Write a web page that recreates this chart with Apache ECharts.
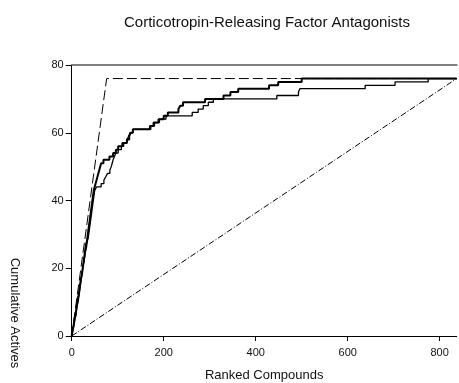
<!DOCTYPE html>
<html>
<head>
<meta charset="utf-8">
<script src="https://cdn.jsdelivr.net/npm/echarts@6/dist/echarts.min.js"></script>
<style>
  html, body { margin: 0; padding: 0; background: #fff; }
  #chart { width: 459px; height: 383px; }
</style>
</head>
<body>
<div id="chart"></div>
<script>
// Enrichment curves: cumulative actives found vs. ranked compounds
const totalCompounds = 837;
const totalActives = 76;
const xTicks = [0, 200, 400, 600, 800];
const yTicks = [0, 20, 40, 60, 80];

// Method A (heavy line): rank at which each cumulative count is reached
const rankA = [0, 1, 2, 4, 5, 6, 8, 9, 10, 11, 12, 13, 15, 16, 17, 18, 19, 20, 22, 23,
  24, 25, 26, 27, 28, 29, 30, 31, 33, 34, 35, 36, 37, 38, 39, 40, 41, 42, 43, 44,
  45, 46, 48, 52, 56, 60, 64, 69, 82, 90, 96, 101, 110, 120, 125, 128, 133, 170, 178, 190,
  200, 209, 232, 236, 242, 290, 330, 345, 362, 429, 449, 500, 837];
const activesA = [0, 1, 2, 3, 4, 5, 6, 7, 8, 9, 10, 11, 12, 13, 14, 15, 16, 17, 18, 19,
  20, 21, 22, 23, 24, 25, 26, 27, 28, 29, 30, 31, 32, 33, 34, 35, 36, 37, 38, 39,
  40, 41, 43, 45, 47, 49, 51, 52, 53, 54, 55, 56, 57, 58, 59, 60, 61, 62, 63, 64,
  65, 66, 67, 68, 69, 70, 71, 72, 73, 74, 75, 76, 76];

// Method B (light line)
const rankB = [0, 2, 3, 5, 6, 7, 9, 10, 11, 12, 14, 15, 16, 17, 18, 19, 20, 21, 22, 23,
  24, 25, 27, 28, 29, 30, 32, 33, 34, 36, 37, 38, 39, 40, 41, 42, 43, 44, 45, 46,
  47, 48, 49, 50, 54, 64, 70, 74, 78, 83, 86, 88, 90, 93, 96, 101, 108, 113, 120, 124,
  127, 133, 172, 180, 188, 205, 262, 275, 286, 297, 308, 446, 493, 496, 638, 703, 775, 837];
const activesB = [0, 1, 2, 3, 4, 5, 6, 7, 8, 9, 10, 11, 12, 13, 14, 15, 16, 17, 18, 19,
  20, 21, 22, 23, 24, 25, 26, 27, 28, 29, 30, 31, 32, 33, 34, 35, 36, 37, 38, 39,
  40, 41, 42, 43, 44, 45, 46, 47, 48, 49, 50, 51, 52, 53, 54, 55, 56, 57, 58, 59,
  60, 61, 62, 63, 64, 65, 66, 67, 68, 69, 70, 71, 72, 73, 74, 75, 76, 76];

// Ideal ranking and random selection references
const idealRank = [0, totalActives, totalCompounds];
const idealActives = [0, totalActives, totalActives];
const randomRank = [0, totalCompounds];
const randomActives = [0, totalActives];

const zip = (xs, ys) => xs.map((x, i) => [x, ys[i]]);

const font = 'Liberation Sans, Arial, sans-serif';
const chart = echarts.init(document.getElementById('chart'), null, { renderer: 'canvas' });

chart.setOption({
  animation: false,
  backgroundColor: '#fff',
  title: {
    text: 'Corticotropin-Releasing Factor Antagonists',
    left: 119, top: 10,
    textStyle: { fontFamily: font, fontSize: 15, fontWeight: 'normal', color: '#111' }
  },
  grid: { left: 71.7, right: 2.3, top: 65, bottom: 47, containLabel: false, outerBoundsMode: 'none' },
  xAxis: [{
    type: 'value', min: 0, max: totalCompounds, interval: 200,
    name: 'Ranked Compounds', nameLocation: 'middle', nameGap: 33,
    nameTextStyle: { fontFamily: font, fontSize: 13, color: '#111' },
    axisLine: { show: true, onZero: false, lineStyle: { color: '#000', width: 1 } },
    axisTick: { show: true, inside: false, length: 5, customValues: xTicks, lineStyle: { color: '#000' } },
    axisLabel: { customValues: xTicks, margin: 11, fontFamily: font, fontSize: 11, color: '#111' },
    splitLine: { show: false }
  }, {
    type: 'value', position: 'top', min: 0, max: totalCompounds,
    axisLine: { show: true, onZero: false, lineStyle: { color: '#808080', width: 2 } },
    axisTick: { show: false }, axisLabel: { show: false }, splitLine: { show: false }
  }],
  yAxis: {
    type: 'value', min: 0, max: 80, interval: 20,
    axisLine: { show: true, onZero: false, lineStyle: { color: '#000', width: 1 } },
    axisTick: { show: true, inside: false, length: 6, customValues: yTicks, lineStyle: { color: '#000' } },
    axisLabel: { customValues: yTicks, margin: 8, fontFamily: font, fontSize: 11, color: '#111' },
    splitLine: { show: false }
  },
  graphic: [{
    type: 'text', x: 15, y: 313, rotation: -Math.PI / 2,
    style: {
      text: 'Cumulative Actives', fontFamily: font, fontSize: 13, fill: '#111',
      align: 'center', verticalAlign: 'middle'
    }
  }],
  series: [{
    type: 'line', name: 'Random', data: zip(randomRank, randomActives),
    symbol: 'none', lineStyle: { color: '#000', width: 1, type: [6, 2, 1, 2] }
  }, {
    type: 'line', name: 'Ideal', data: zip(idealRank, idealActives),
    symbol: 'none', lineStyle: { color: '#000', width: 1, type: [10, 4] }
  }, {
    type: 'line', name: 'Method B', data: zip(rankB, activesB), step: 'end',
    symbol: 'none', lineStyle: { color: '#000', width: 1.3 }
  }, {
    type: 'line', name: 'Method A', data: zip(rankA, activesA), step: 'end',
    symbol: 'none', lineStyle: { color: '#000', width: 2 }
  }]
});
</script>
</body>
</html>
